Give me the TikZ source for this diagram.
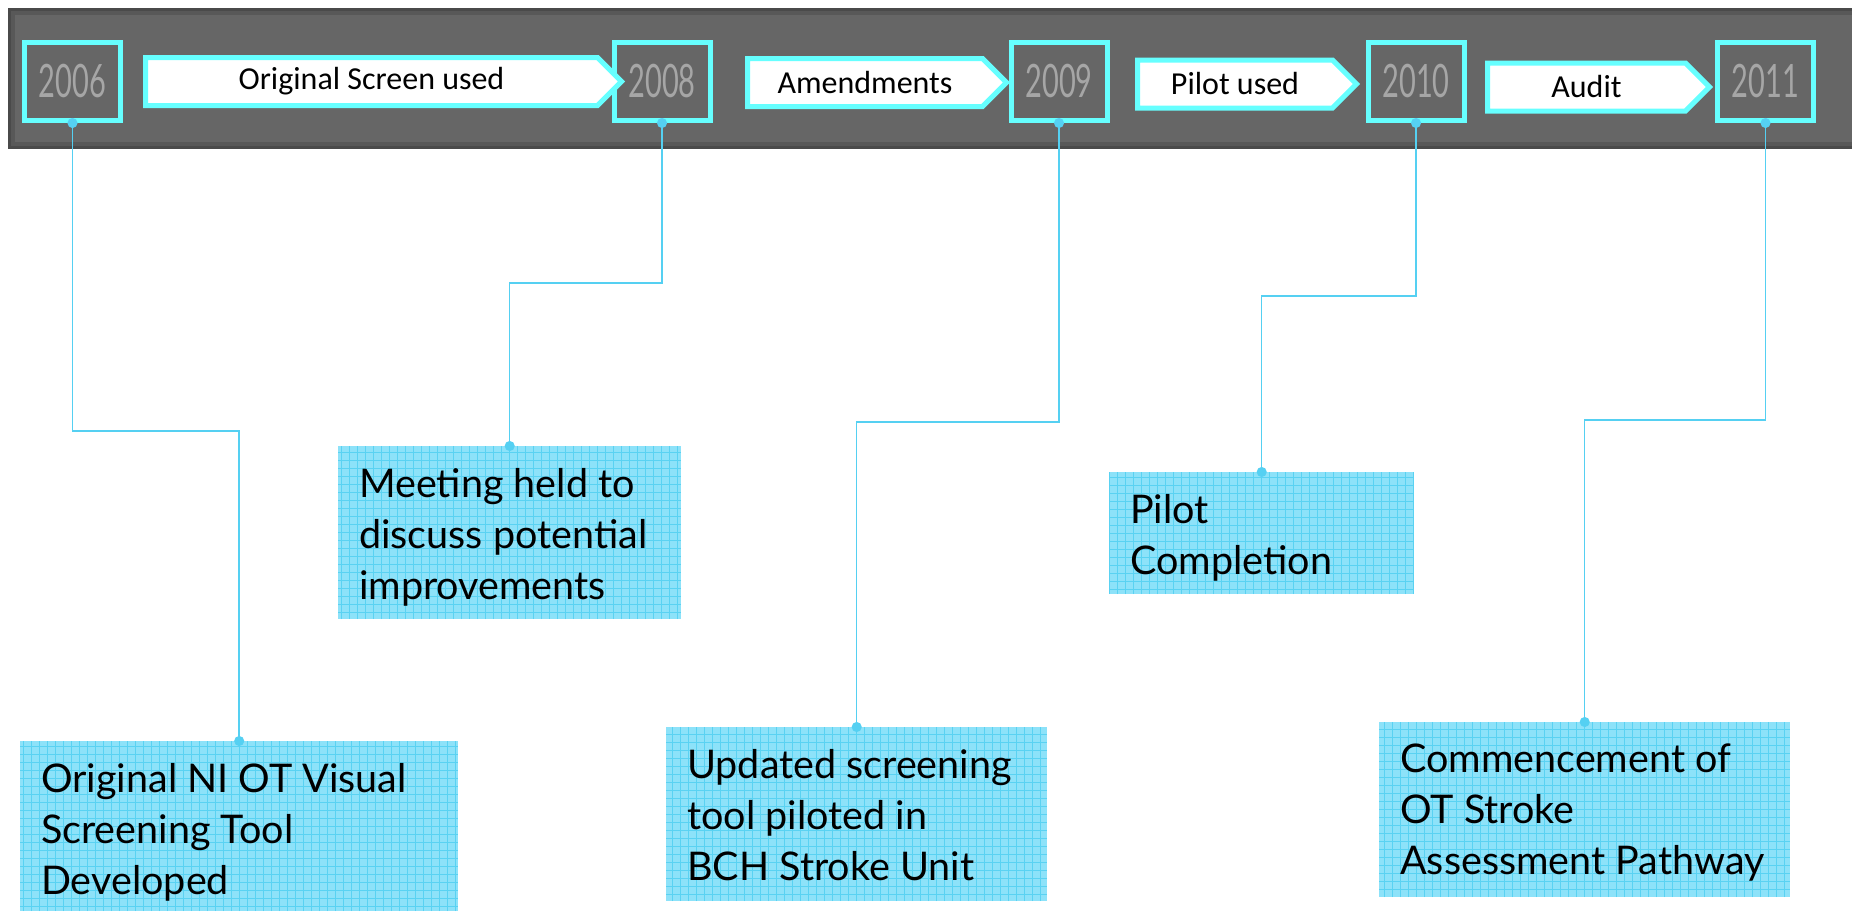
\documentclass[tikz,border=0pt]{standalone}
\usepackage{fontspec}
\setmainfont{Lato}
\newfontfamily\labelfont{Carlito}
\newfontfamily\yearfont[FakeStretch=0.63]{Lato}
\usetikzlibrary{shapes.symbols,arrows.meta}

\definecolor{barfill}{HTML}{666666}
\definecolor{baredge}{HTML}{4A4A4A}
\definecolor{barmid}{HTML}{585858}
\definecolor{framecyan}{HTML}{66FFFF}
\definecolor{yeargray}{HTML}{A6A6A6}
\definecolor{notefill}{HTML}{8DE2F9}
\definecolor{notegrid}{HTML}{5AD2F2}
\definecolor{linkblue}{HTML}{55D0F2}

\tikzset{
	yearbox/.style={draw=framecyan, line width=5pt, minimum width=96pt, minimum height=78pt, inner sep=0pt,
		text=yeargray, font=\yearfont\fontsize{46}{46}\selectfont},
	phase/.style={signal, signal to=east, signal from=nowhere, draw=framecyan, fill=white, line width=5pt,
		minimum height=48pt, inner sep=0pt, font=\labelfont\fontsize{32}{32}\selectfont},
	notebox/.style={fill=notefill, inner sep=0pt, anchor=north west,
		path picture={\draw[notegrid, line width=0.8pt] (path picture bounding box.south west) grid[step=8pt] (path picture bounding box.north east);}},
	notetext/.style={anchor=north west, inner sep=0pt, align=left, font=\fontsize{39.5}{51}\selectfont},
	link/.style={linkblue, line width=1.5pt, {Circle[length=10pt]}-{Circle[length=10pt]}, shorten <=-5pt, shorten >=-5pt}
}

\begin{document}
\begin{tikzpicture}[x=1pt, y=-1pt]
	\useasboundingbox (0,0) rectangle (1852,911);
	% timeline bar
	\fill[baredge] (8,8) rectangle (1852,149);
	\fill[barmid] (11,11) rectangle (1852,146);
	\fill[barfill] (15,15) rectangle (1852,142);

	% years
	\node[yearbox] (y06) at (72.5,81.5) {2006};
	\node[yearbox] (y08) at (662,81.5) {2008};
	\node[yearbox] (y09) at (1059,81.5) {2009};
	\node[yearbox] (y10) at (1416,81.5) {2010};
	\node[yearbox] (y11) at (1765.5,81.5) {2011};

	% phases between the years
	\node[phase, minimum width=476pt] (p1) at (371.5,81.5) {Original Screen used\hspace{12pt}};
	\node[phase, minimum width=259pt] (p2) at (865,82.5) {Amendments\hspace{8pt}};
	\node[phase, minimum width=219pt] (p3) at (1235,84) {Pilot used\hspace{8pt}};
	\node[phase, minimum width=222pt] (p4) at (1586.5,87) {Audit\hspace{8pt}};

	% notes
	\node[notebox, minimum width=438pt, minimum height=170pt] (n06) at (20,741) {};
	\node[notebox, minimum width=343pt, minimum height=173pt] (n08) at (338,446) {};
	\node[notebox, minimum width=381pt, minimum height=174pt] (n09) at (666,727) {};
	\node[notebox, minimum width=305pt, minimum height=122pt] (n10) at (1109,472) {};
	\node[notebox, minimum width=411pt, minimum height=175pt] (n11) at (1379,722) {};

	\node[notetext] (t06) at ([shift={(21,22)}]n06.north west) {Original NI OT Visual\\Screening Tool\\Developed};
	\node[notetext] (t08) at ([shift={(21,22)}]n08.north west) {Meeting held to\\discuss potential\\improvements};
	\node[notetext] (t09) at ([shift={(21,22)}]n09.north west) {Updated screening\\tool piloted in\\BCH Stroke Unit};
	\node[notetext] (t10) at ([shift={(21,22)}]n10.north west) {Pilot\\Completion};
	\node[notetext] (t11) at ([shift={(21,22)}]n11.north west) {Commencement of\\OT Stroke\\Assessment Pathway};

	% links
	\draw[link] (y06.south) -- (y06.south |- 0,431) -| (n06.north);
	\draw[link] (y08.south) -- (y08.south |- 0,283) -| (n08.north);
	\draw[link] (y09.south) -- (y09.south |- 0,422) -| (n09.north);
	\draw[link] (y10.south) -- (y10.south |- 0,296) -| (n10.north);
	\draw[link] (y11.south) -- (y11.south |- 0,420) -| (n11.north);
\end{tikzpicture}
\end{document}
